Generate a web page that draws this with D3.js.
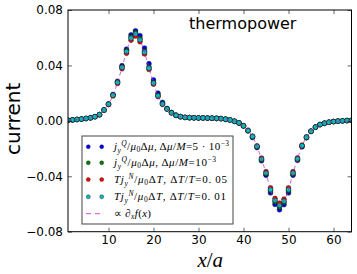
<!DOCTYPE html>
<html>
<head>
<meta charset="utf-8">
<script src="https://cdn.jsdelivr.net/npm/d3@7"></script>
<style>
  body { margin: 0; background: #fff; }
  svg { display: block; }
</style>
</head>
<body>
<script>
// x positions are the lattice sites 1..64
let sites = d3.range(1, 65);

let blueVals = [0.0004,0.0007,0.0010,0.0013,0.0017,0.0022,0.0030,0.0045,0.0079,0.0122,
  0.0190,0.0285,0.0398,0.0517,0.0620,0.0650,0.0615,0.0525,0.0412,0.0295,
  0.0200,0.0133,0.0090,0.0060,0.0041,0.0030,0.0025,0.0023,0.0022,0.0021,
  0.0021,0.0020,0.0019,0.0018,0.0016,0.0012,0.0006,-0.0003,-0.0015,-0.0037,
  -0.0073,-0.0120,-0.0193,-0.0288,-0.0393,-0.0520,-0.0603,-0.0642,-0.0605,-0.0520,
  -0.0393,-0.0285,-0.0188,-0.0122,-0.0077,-0.0046,-0.0027,-0.0017,-0.0010,-0.0005,
  -0.0002,0.0000,0.0002,0.0003];
let greenVals = [0.0004,0.0007,0.0010,0.0013,0.0017,0.0022,0.0030,0.0045,0.0078,0.0121,
  0.0187,0.0280,0.0390,0.0507,0.0605,0.0636,0.0595,0.0503,0.0388,0.0278,
  0.0185,0.0125,0.0087,0.0059,0.0040,0.0030,0.0025,0.0023,0.0022,0.0021,
  0.0021,0.0020,0.0019,0.0018,0.0016,0.0012,0.0006,-0.0003,-0.0015,-0.0036,
  -0.0071,-0.0115,-0.0188,-0.0281,-0.0383,-0.0505,-0.0585,-0.0622,-0.0590,-0.0505,
  -0.0383,-0.0279,-0.0183,-0.0120,-0.0076,-0.0045,-0.0027,-0.0017,-0.0010,-0.0005,
  -0.0002,0.0000,0.0002,0.0003];
let redVals = [0.0004,0.0007,0.0010,0.0013,0.0017,0.0022,0.0030,0.0044,0.0076,0.0117,
  0.0180,0.0270,0.0376,0.0488,0.0582,0.0612,0.0571,0.0483,0.0371,0.0265,
  0.0175,0.0119,0.0084,0.0057,0.0039,0.0030,0.0025,0.0023,0.0022,0.0021,
  0.0021,0.0020,0.0019,0.0018,0.0016,0.0012,0.0006,-0.0003,-0.0015,-0.0035,
  -0.0068,-0.0110,-0.0180,-0.0269,-0.0367,-0.0484,-0.0560,-0.0594,-0.0565,-0.0484,
  -0.0367,-0.0268,-0.0175,-0.0115,-0.0073,-0.0044,-0.0027,-0.0017,-0.0010,-0.0005,
  -0.0002,0.0000,0.0002,0.0003];
let cyanVals = [0.0004,0.0007,0.0010,0.0013,0.0017,0.0022,0.0030,0.0045,0.0078,0.0120,
  0.0185,0.0277,0.0385,0.0500,0.0596,0.0627,0.0585,0.0495,0.0380,0.0272,
  0.0180,0.0122,0.0086,0.0058,0.0040,0.0030,0.0025,0.0023,0.0022,0.0021,
  0.0021,0.0020,0.0019,0.0018,0.0016,0.0012,0.0006,-0.0003,-0.0015,-0.0036,
  -0.0070,-0.0113,-0.0185,-0.0276,-0.0377,-0.0497,-0.0575,-0.0610,-0.0580,-0.0497,
  -0.0377,-0.0275,-0.0180,-0.0118,-0.0075,-0.0045,-0.0027,-0.0017,-0.0010,-0.0005,
  -0.0002,0.0000,0.0002,0.0003];
// derivative of the distribution, drawn as the dashed guide
let derivVals = cyanVals;

let xTicks = [10, 20, 30, 40, 50, 60];
let yTicks = [-0.08, -0.04, 0.00, 0.04, 0.08];

let margin = {top: 10, right: 5.5, bottom: 42.3, left: 68},
    W = 357, H = 274,
    width = W - margin.left - margin.right,
    height = H - margin.top - margin.bottom;

let svg = d3.select("body").append("svg")
    .attr("width", W).attr("height", H);

let g = svg.append("g").attr("transform", "translate(" + margin.left + "," + margin.top + ")");

let x = d3.scaleLinear().domain([1, 64]).range([0, width]);
let y = d3.scaleLinear().domain([-0.08, 0.08]).range([height, 0]);

svg.append("defs").append("clipPath").attr("id", "clip")
    .append("rect").attr("width", width).attr("height", height);

let series = [
    {vals: blueVals, color: "#0000ff"},
    {vals: greenVals, color: "#008000"},
    {vals: redVals, color: "#ff0000"},
    {vals: cyanVals, color: "#00bfbf"}
];

let plot = g.append("g").attr("clip-path", "url(#clip)");

series.forEach(function (s) {
    plot.append("g").selectAll("circle")
        .data(sites).enter().append("circle")
        .attr("cx", function (d) { return x(d); })
        .attr("cy", function (d, i) { return y(s.vals[i]); })
        .attr("r", 2.4)
        .attr("fill", s.color)
        .attr("stroke", "#111")
        .attr("stroke-width", 0.5);
});

let line = d3.line()
    .x(function (d) { return x(d); })
    .y(function (d, i) { return y(derivVals[i]); })
    .curve(d3.curveMonotoneX);

plot.append("path").datum(sites)
    .attr("d", line)
    .attr("fill", "none")
    .attr("stroke", "#c020c0")
    .attr("stroke-opacity", 0.7)
    .attr("stroke-width", 1)
    .attr("stroke-dasharray", "4,3");

// axes, ticks pointing inward
let fmt = d3.format(".2f");
let xAxis = g.append("g").attr("transform", "translate(0," + height + ")")
    .call(d3.axisBottom(x).tickValues(xTicks).tickSizeInner(-4).tickSizeOuter(0).tickPadding(4));
let yAxis = g.append("g")
    .call(d3.axisLeft(y).tickValues(yTicks).tickFormat(fmt).tickSizeInner(-4).tickSizeOuter(0).tickPadding(5));
let xTop = g.append("g")
    .call(d3.axisTop(x).tickValues(xTicks).tickFormat("").tickSizeInner(-4).tickSizeOuter(0));
let yRight = g.append("g").attr("transform", "translate(" + width + ",0)")
    .call(d3.axisRight(y).tickValues(yTicks).tickFormat("").tickSizeInner(-4).tickSizeOuter(0));

[xAxis, yAxis, xTop, yRight].forEach(function (a) {
    a.select(".domain").remove();
    a.selectAll(".tick line").attr("stroke", "#000").attr("stroke-width", 0.6);
    a.selectAll("text")
        .attr("font-family", "DejaVu Sans")
        .attr("font-size", 12)
        .attr("fill", "#000");
});

g.append("rect")
    .attr("width", width).attr("height", height)
    .attr("fill", "none").attr("stroke", "#000").attr("stroke-width", 1);

g.append("text")
    .attr("x", x(27.9)).attr("y", 19)
    .attr("font-family", "DejaVu Sans").attr("font-size", 16)
    .text("thermopower");

svg.append("text")
    .attr("transform", "translate(20," + (margin.top + height / 2 - 2) + ") rotate(-90)")
    .attr("text-anchor", "middle")
    .attr("font-family", "DejaVu Sans").attr("font-size", 20)
    .text("current");

let xl = svg.append("text")
    .attr("x", margin.left + width / 2 + 0.5).attr("y", 267)
    .attr("text-anchor", "middle")
    .attr("font-family", "Liberation Serif").attr("font-size", 21);
xl.append("tspan").attr("font-style", "italic").text("x");
xl.append("tspan").text("/");
xl.append("tspan").attr("font-style", "italic").text("a");

// legend
let legend = svg.append("g");
legend.append("rect")
    .attr("x", 82).attr("y", 136).attr("width", 151).attr("height", 88)
    .attr("fill", "#fff").attr("stroke", "#444").attr("stroke-width", 1);

// each row: segments [text, italic, shift, size]
let legendRows = [
    [["j", 1, 0], ["y", 1, -2.5, 7.5], ["Q", 1, 4, 7.5], ["/", 0, 0], ["μ", 1, 0], ["0", 0, -2, 7.5], ["Δ", 0, 0], ["μ", 1, 0], [",  Δ", 0, 0], ["μ", 1, 0], ["/", 0, 0], ["M", 1, 0], ["=5 · 10", 0, 0], ["−3", 0, 4, 7.5]],
    [["j", 1, 0], ["y", 1, -2.5, 7.5], ["Q", 1, 4, 7.5], ["/", 0, 0], ["μ", 1, 0], ["0", 0, -2, 7.5], ["Δ", 0, 0], ["μ", 1, 0], [",  Δ", 0, 0], ["μ", 1, 0], ["/", 0, 0], ["M", 1, 0], ["=10", 0, 0], ["−3", 0, 4, 7.5]],
    [["Tj", 1, 0], ["y", 1, -2.5, 7.5], ["N", 1, 4, 7.5], ["/", 0, 0], ["μ", 1, 0], ["0", 0, -2, 7.5], ["Δ", 0, 0], ["T", 1, 0], [",  Δ", 0, 0], ["T", 1, 0], ["/", 0, 0], ["T", 1, 0], ["=0. 05", 0, 0]],
    [["Tj", 1, 0], ["y", 1, -2.5, 7.5], ["N", 1, 4, 7.5], ["/", 0, 0], ["μ", 1, 0], ["0", 0, -2, 7.5], ["Δ", 0, 0], ["T", 1, 0], [",  Δ", 0, 0], ["T", 1, 0], ["/", 0, 0], ["T", 1, 0], ["=0. 01", 0, 0]],
    [["∝ ∂", 0, 0], ["x", 1, -2, 7.5], ["f", 1, 0], ["(", 0, 0], ["x", 1, 0], [")", 0, 0]]
];
let rowWidth = [115, 102, 113, 112, 37];
let rowY = [146.7, 162.8, 179.6, 196.8, 213.6];

series.forEach(function (s, k) {
    legend.selectAll(null).data([88.3, 101.7]).enter().append("circle")
        .attr("cx", function (d) { return d; })
        .attr("cy", rowY[k])
        .attr("r", 2)
        .attr("fill", s.color)
        .attr("stroke", "#111").attr("stroke-width", 0.4);
});
legend.append("line")
    .attr("x1", 86).attr("x2", 104).attr("y1", rowY[4]).attr("y2", rowY[4])
    .attr("stroke", "#e070e0")
    .attr("stroke-width", 1.3).attr("stroke-dasharray", "5,4");

legendRows.forEach(function (row, k) {
    let t = legend.append("text")
        .attr("x", 114).attr("y", rowY[k] + 3.5)
        .attr("font-family", "Liberation Serif").attr("font-size", 11)
        .attr("textLength", rowWidth[k]);
    row.forEach(function (seg) {
        let ts = t.append("tspan").text(seg[0]);
        if (seg[1]) ts.attr("font-style", "italic");
        if (seg[2]) ts.attr("baseline-shift", seg[2]);
        if (seg[3]) ts.attr("font-size", seg[3]);
    });
});
</script>
</body>
</html>
